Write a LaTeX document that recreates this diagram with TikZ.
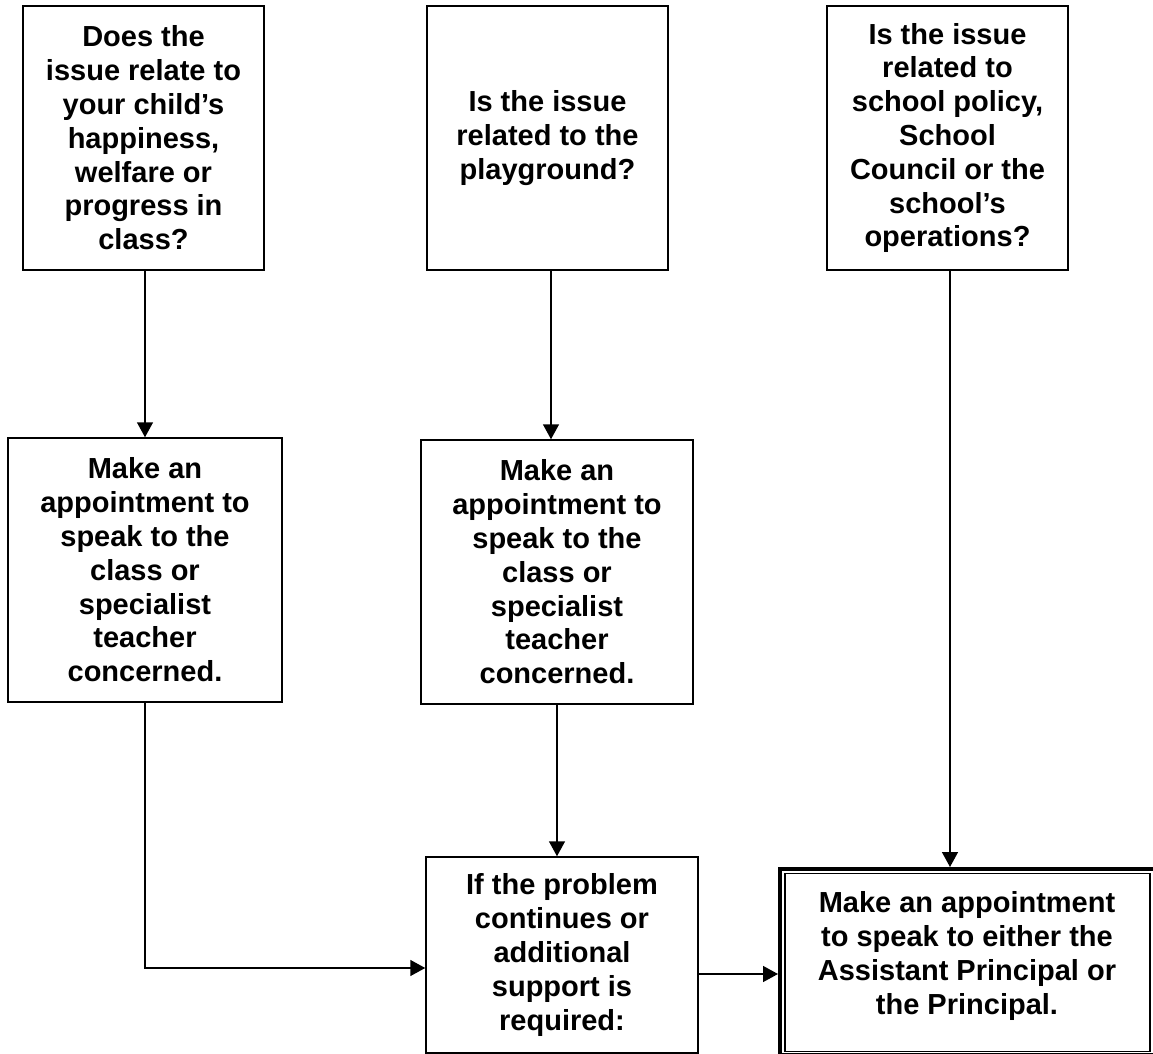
\documentclass[tikz,border=0pt]{standalone}
\usepackage{fontspec}
\setmainfont{Liberation Sans}
\usepackage{tikz}
\usetikzlibrary{positioning,arrows.meta}

\tikzset{
  box/.style={draw,line width=0.75pt,inner sep=0pt,align=center,
    minimum width=#1},
  box/.default=120.5pt,
  conn/.style={line width=0.75pt,-{Triangle[length=7.5pt,width=8pt]}},
  line/.style={line width=0.75pt}
}

\begin{document}
\begin{tikzpicture}[x=0.5pt,y=-0.5pt,
    every node/.style={font=\bfseries\fontsize{14.5}{16.9}\selectfont}]
  \useasboundingbox (0,0) rectangle (1153,1054);

  % questions
  \node [box,minimum height=132pt] (child) at (143.5,138)
    {Does the\\issue relate to\\your child’s\\happiness,\\welfare or\\progress in\\class?};
  \node [box,minimum height=132pt] (play) at (547.5,138)
    {Is the issue\\related to the\\playground?};
  \node [box,minimum height=132pt] (policy) at (947.5,138)
    {Is the issue\\related to\\school policy,\\School\\Council or the\\school’s\\operations?};

  % teachers
  \node [box=137pt,minimum height=132pt] (teacherA) at (145,570)
    {Make an\\appointment to\\speak to the\\class or\\specialist\\teacher\\concerned.};
  \node [box=136pt,minimum height=132pt] (teacherB) at (557,572)
    {Make an\\appointment to\\speak to the\\class or\\specialist\\teacher\\concerned.};

  \node [box=136pt,minimum height=98pt] (cont) at (562,955)
    {If the problem\\continues or\\additional\\support is\\required:};

  % principal, double frame
  \node [draw,line width=2pt,inner sep=0pt,minimum width=187.5pt,
    minimum height=93pt] (principal) at (967.5,962) {};
  \node [draw,line width=0.75pt,inner sep=0pt,minimum width=182.5pt,
    minimum height=89pt] (inner) at (967.5,962.5) {};
  \node [align=center] (principaltxt) at (967,956)
    {Make an appointment\\to speak to either the\\Assistant Principal or\\the Principal.};

  \draw [conn] (teacherA.north |- child.south) -- (teacherA.north);
  \draw [conn] ([xshift=1.75pt]play.south) -- ([xshift=1.75pt]play.south |- teacherB.north);
  \draw [conn] ([xshift=1.25pt]policy.south) -- ([xshift=1.25pt]policy.south |- principal.north);
  \draw [conn] (teacherB.south) -- (teacherB.south |- cont.north);
  \coordinate (contin) at ([yshift=-6.5pt]cont.west);
  \draw [conn] (teacherA.south) |- (contin);
  \coordinate (contout) at ([yshift=-9.5pt]cont.east);
  \draw [conn] (contout) -- (contout -| principal.west);
\end{tikzpicture}
\end{document}
